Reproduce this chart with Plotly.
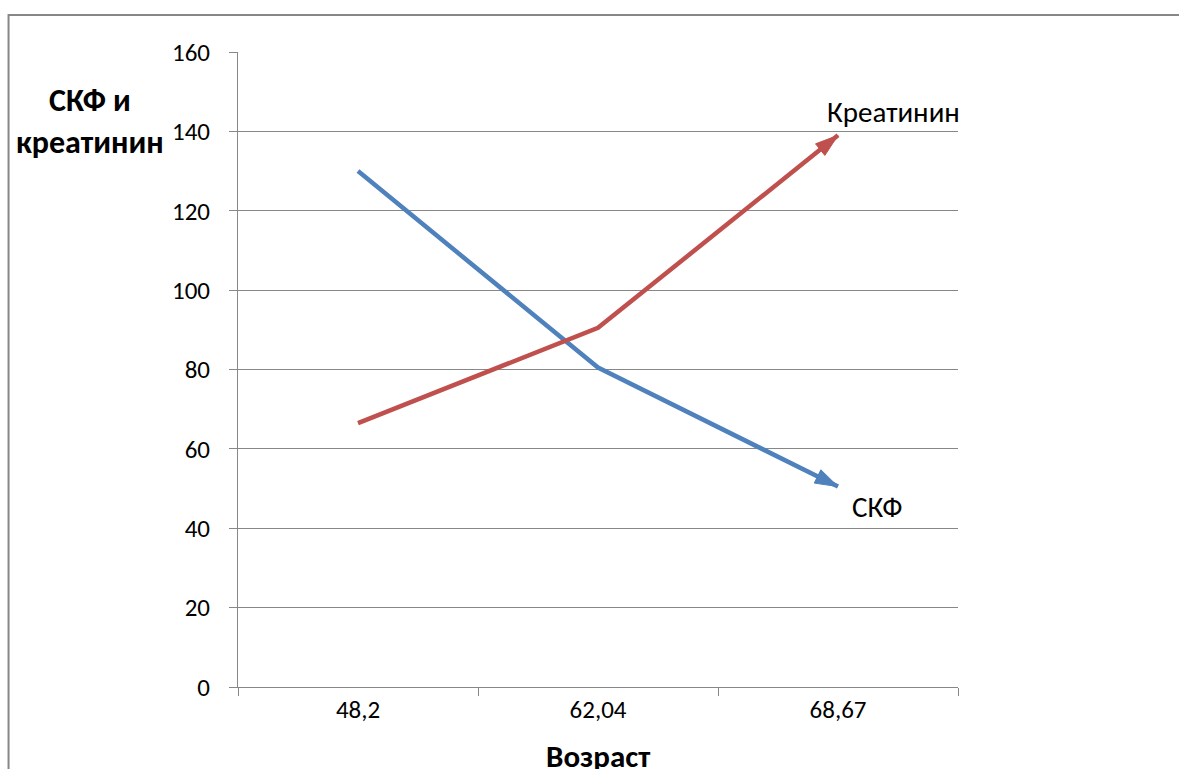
import plotly.graph_objects as go

ages = ["48,2", "62,04", "68,67"]
gfr = [130, 80.5, 50.5]
creatinine = [66.5, 90.5, 139]
y_ticks = [0, 20, 40, 60, 80, 100, 120, 140, 160]

BLUE = "#4F81BD"
RED = "#C0504D"
GRAY = "#878787"
FONT = "Carlito, Lato, 'Open Sans', sans-serif"

fig = go.Figure()
for vals, col in [(gfr, BLUE), (creatinine, RED)]:
    fig.add_trace(go.Scatter(
        x=ages, y=vals, mode="lines+markers",
        line=dict(color=col, width=4.5),
        marker=dict(symbol="arrow", angleref="previous", opacity=1,
                    size=[0, 0, 24], color=col, line=dict(width=1, color=col)),
        showlegend=False, hoverinfo="skip", cliponaxis=False,
    ))

fig.add_annotation(x=ages[2], y=creatinine[2], text="Креатинин", showarrow=False,
                   xanchor="left", yanchor="bottom", xshift=-13, yshift=3,
                   font=dict(size=29, color="black", family=FONT))
fig.add_annotation(x=ages[2], y=gfr[2], text="СКФ", showarrow=False,
                   xanchor="center", yanchor="top", xshift=39, yshift=0,
                   font=dict(size=29, color="black", family=FONT))

fig.add_annotation(xref="paper", yref="paper", x=-0.205, y=0.89,
                   text="<b>СКФ и<br>креатинин</b>", showarrow=False,
                   xanchor="center", yanchor="middle", align="center",
                   font=dict(size=32, color="black", family=FONT))
fig.add_annotation(xref="paper", yref="paper", x=0.5, y=-0.075,
                   text="<b>Возраст</b>", showarrow=False,
                   xanchor="center", yanchor="top",
                   font=dict(size=31, color="black", family=FONT))

fig.add_shape(type="rect", xref="paper", yref="paper",
              x0=-0.3187, x1=1.33, y0=-0.2, y1=1.0583,
              line=dict(color=GRAY, width=2), layer="below")

fig.update_xaxes(type="category", range=[-0.5, 2.5], tickson="boundaries",
                 ticks="outside", ticklen=8, tickcolor=GRAY, showline=True,
                 linecolor=GRAY, linewidth=1, showgrid=False,
                 tickfont=dict(size=25, color="black", family=FONT))
fig.update_yaxes(range=[0, 160], tickvals=y_ticks, ticks="outside", ticklen=8,
                 tickcolor=GRAY, showline=True, linecolor=GRAY, linewidth=1,
                 showgrid=True, gridcolor=GRAY, gridwidth=1, zeroline=False,
                 ticklabelstandoff=14,
                 tickfont=dict(size=25, color="black", family=FONT))

fig.update_layout(width=1179, height=769,
                  margin=dict(l=238, r=221, t=52, b=82),
                  paper_bgcolor="white", plot_bgcolor="white",
                  font=dict(family=FONT))

fig.write_html("out.html")
